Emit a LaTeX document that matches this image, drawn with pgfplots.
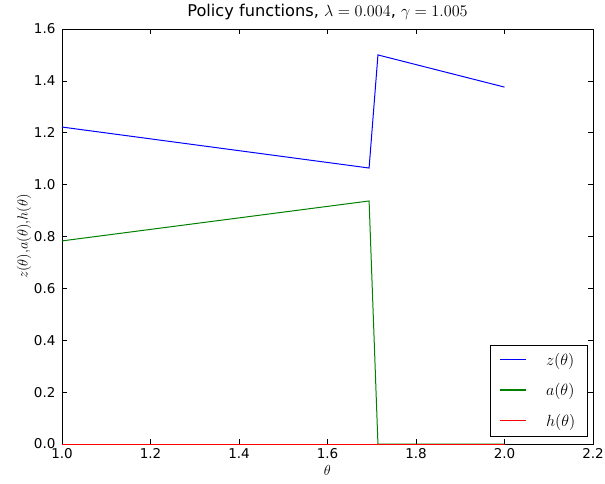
\RequirePackage{fix-cm}
\documentclass[border=0pt]{standalone}
\usepackage{fontspec}
\setmainfont{DejaVu Sans}
\usepackage{pgfplots}
\pgfplotsset{compat=1.18}
\definecolor{mplblue}{rgb}{0,0,1}
\definecolor{mplgreen}{rgb}{0,0.5,0}
\definecolor{mplred}{rgb}{1,0,0}
\begin{document}
\begin{tikzpicture}
\path[use as bounding box] (-62pt,-39pt) rectangle (543pt,444pt);
\begin{axis}[at={(0pt,0pt)}, anchor=south west, scale only axis,
  width=531pt, height=415pt,
  xmin=1, xmax=2.2, ymin=0, ymax=1.6,
  xtick={1,1.2,1.4,1.6,1.8,2.0,2.2},
  ytick={0,0.2,0.4,0.6,0.8,1.0,1.2,1.4,1.6},
  tick align=inside, major tick length=5pt,
  tick style={black, line width=0.6pt},
  axis line style={line width=0.8pt},
  /pgf/number format/fixed, /pgf/number format/fixed zerofill,
  /pgf/number format/precision=1, /pgf/number format/assume math mode=true,
  tick label style={font=\fontsize{13.5}{15}\selectfont},
  yticklabel style={xshift=-3pt},
  xticklabel style={yshift=-1pt},
  title={Policy functions, $\lambda=0.004$, $\gamma=1.005$},
  title style={at={(0.5,1)}, anchor=base, yshift=6pt, inner sep=0pt, font=\fontsize{16.2}{18}\selectfont},
  xlabel={$\theta$}, ylabel={$z(\theta),\!a(\theta),\!h(\theta)$},
  label style={font=\fontsize{14.5}{16}\selectfont},
  xlabel style={yshift=0pt},
  ylabel style={yshift=-4pt},
  legend style={at={(1,0)}, anchor=south east, xshift=-6pt, yshift=8pt,
    font=\fontsize{16.2}{18}\selectfont, row sep=13pt, inner xsep=9.5pt, inner ysep=6pt},
  legend cell align=left,
  legend image code/.code={\draw[#1, line width=1.2pt] (0pt,0.4pt) -- (26pt,0.4pt);},
]
\addplot[color=mplblue, line width=1pt] coordinates {(1.0,1.222) (1.694,1.064) (1.714,1.500) (2.0,1.376)};
\addlegendentry{\hspace{17pt}$z(\theta)$}
\addplot[color=mplgreen, line width=1pt] coordinates {(1.0,0.783) (1.694,0.937) (1.714,0.0) (2.0,0.0)};
\addlegendentry{\hspace{17pt}$a(\theta)$}
\addplot[color=mplred, line width=1pt] coordinates {(1.0,0) (2.0,0)};
\addlegendentry{\hspace{17pt}$h(\theta)$}
\end{axis}
\end{tikzpicture}
\end{document}
